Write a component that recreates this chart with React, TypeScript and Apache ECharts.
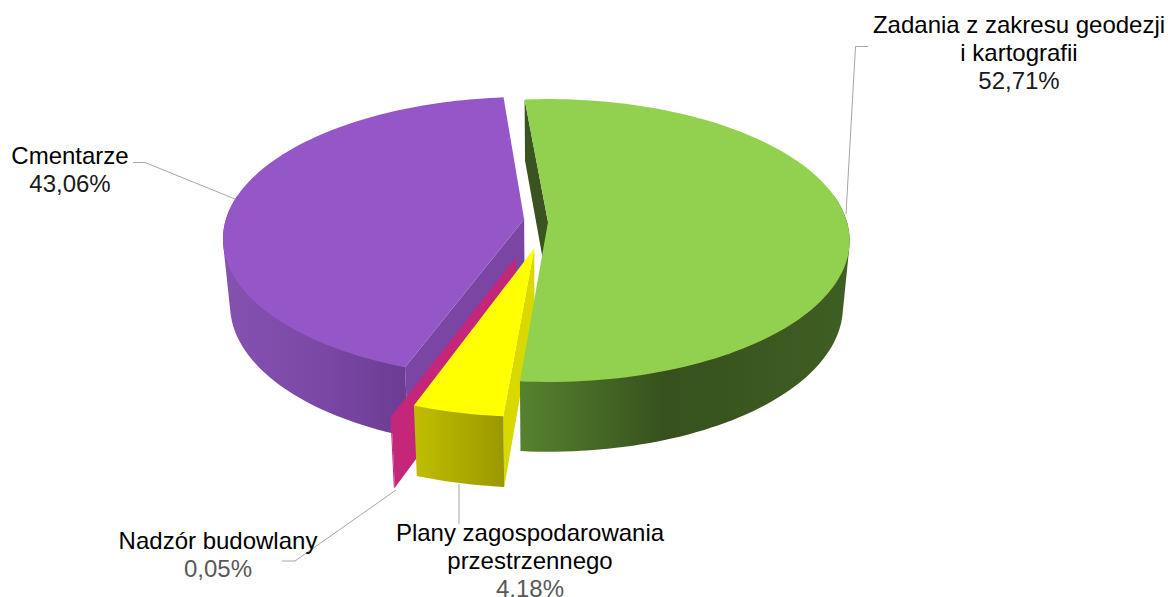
import React, { useEffect, useRef } from "react";
import * as echarts from "echarts";

const categories = ["Zadania z zakresu geodezji i kartografii", "Plany zagospodarowania przestrzennego", "Nadzór budowlany", "Cmentarze"];
const values = [52.71, 4.18, 0.05, 43.06];
const labelLines = [["Zadania z zakresu geodezji", "i kartografii"], ["Plany zagospodarowania", "przestrzennego"], ["Nadzór budowlany"], ["Cmentarze"]];

// --- styling and camera (not data) ---
const START_ANGLE = -5;
const FONT = '"Liberation Sans", Arial, sans-serif';
const TEXT_PX = 24;
const LINE_GAP = 28;
const camera = { x: 545, y: 222, ax: 299, ay: 139, k: 0.131, depth: 65.5, shrink: 0.978 };
const sliceOffsets = [
  { u: 0.01, v: 0 },
  { u: -0.035, v: 0.185 },
  { u: -0.095, v: 0.245 },
  { u: -0.07, v: -0.02 },
];
const topColors = ["#92d050", "#ffff00", "#c4267a", "#9556c8"];
const wallColors = ["#3a5320", "#d9d900", "#c4267a", "#7a45a3"];
const rimStops: [number, string][][] = [
  [[0, "#56822f"], [0.45, "#36511d"], [1, "#3f5e23"]],
  [[0, "#bfbd00"], [1, "#9a9800"]],
  [[0, "#c4267a"], [1, "#c4267a"]],
  [[0, "#8451b0"], [0.5, "#7b48a6"], [1, "#6b3c93"]],
];
const labelStyles = [
  { cx: 1019, y: 24, pct: "#1a1a1a" },
  { cx: 530, y: 532, pct: "#595959" },
  { cx: 218, y: 540, pct: "#595959" },
  { cx: 70, y: 155, pct: "#1a1a1a" },
];
const leaderLines: number[][][] = [
  [[846, 214], [855.5, 46.5], [868, 46.5]],
  [[459, 484], [459, 524]],
  [[396, 490], [295, 561], [282, 561]],
  [[235, 199], [145, 162.5], [133, 162.5]],
];
const renderOrder = [3, 2, 1, 0];

function project(U: number, V: number, bottom: boolean): number[] {
  const w = 1 - camera.k * V;
  const sx = (camera.ax * U) / w;
  const sy = (camera.ay * V) / w;
  if (!bottom) return [camera.x + sx, camera.y + sy];
  return [camera.x + sx * camera.shrink, camera.y + sy + camera.depth * (1 + 0.5 * camera.k * V)];
}

function sliceAngles(i: number): [number, number] {
  const total = values.reduce((a, b) => a + b, 0);
  let a = START_ANGLE;
  for (let j = 0; j < i; j++) a += (values[j] / total) * 360;
  return [a, a + (values[i] / total) * 360];
}

function arcPoint(i: number, deg: number, bottom: boolean): number[] {
  const r = (deg * Math.PI) / 180;
  const o = sliceOffsets[i];
  return project(o.u + Math.sin(r), o.v - Math.cos(r), bottom);
}

function hull(points: number[][]): number[][] {
  const p = points.slice().sort((a, b) => a[0] - b[0] || a[1] - b[1]);
  const cross = (o: number[], a: number[], b: number[]) => (a[0] - o[0]) * (b[1] - o[1]) - (a[1] - o[1]) * (b[0] - o[0]);
  const half = (list: number[][]) => {
    const h: number[][] = [];
    for (const q of list) {
      while (h.length >= 2 && cross(h[h.length - 2], h[h.length - 1], q) <= 0) h.pop();
      h.push(q);
    }
    h.pop();
    return h;
  };
  return [...half(p), ...half(p.slice().reverse())];
}

function renderSlice(params: any) {
  const i = renderOrder[params.dataIndex];
  const [a0, a1] = sliceAngles(i);
  const steps = Math.max(2, Math.ceil((a1 - a0) / 1.5));
  const degs: number[] = [];
  for (let s = 0; s <= steps; s++) degs.push(a0 + ((a1 - a0) * s) / steps);
  const o = sliceOffsets[i];
  const apexTop = project(o.u, o.v, false);
  const apexBottom = project(o.u, o.v, true);
  const topArc = degs.map((d) => arcPoint(i, d, false));
  const bottomArc = degs.map((d) => arcPoint(i, d, true));
  const front = degs.filter((d) => Math.cos((d * Math.PI) / 180) < 0.2);
  const frontTop = front.map((d) => arcPoint(i, d, false));
  const frontBottom = front.map((d) => arcPoint(i, d, true));
  const xs = frontBottom.map((q) => q[0]);
  const minX = Math.min(...xs);
  const maxX = Math.max(...xs);
  const gradient = new echarts.graphic.LinearGradient(minX, 0, maxX, 0,
    rimStops[i].map(([offset, color]) => ({ offset, color })), true);
  return {
    type: "group",
    children: [
      {
        type: "polygon",
        shape: { points: [apexTop, topArc[0], bottomArc[0], apexBottom] },
        style: { fill: wallColors[i] },
      },
      {
        type: "polygon",
        shape: { points: hull([...frontTop, ...frontBottom]) },
        style: { fill: gradient },
      },
      {
        type: "polygon",
        shape: { points: [apexTop, ...topArc] },
        style: { fill: topColors[i] },
      },
    ],
  };
}

function pct(v: number) {
  return v.toFixed(2).replace(".", ",") + "%";
}

function labelGraphics() {
  const out: any[] = [];
  leaderLines.forEach((pts) => {
    out.push({ type: "polyline", silent: true, shape: { points: pts }, style: { stroke: "#a6a6a6", lineWidth: 1, fill: "none" } });
  });
  categories.forEach((_, i) => {
    const st = labelStyles[i];
    const lines = labelLines[i];
    lines.forEach((t, n) => {
      out.push({
        type: "text", silent: true, x: st.cx, y: st.y + n * LINE_GAP,
        style: { text: t, fill: "#000", font: `${TEXT_PX}px ${FONT}`, textAlign: "center", textVerticalAlign: "middle" },
      });
    });
    out.push({
      type: "text", silent: true, x: st.cx, y: st.y + lines.length * LINE_GAP,
      style: { text: pct(values[i]), fill: st.pct, font: `${TEXT_PX}px ${FONT}`, textAlign: "center", textVerticalAlign: "middle" },
    });
  });
  return out;
}

export default function App() {
  const ref = useRef<HTMLDivElement>(null);
  useEffect(() => {
    const chart = echarts.init(ref.current!, undefined, { renderer: "svg" });
    chart.setOption({
      animation: false,
      backgroundColor: "#ffffff",
      series: [
        {
          type: "custom",
          coordinateSystem: "none",
          silent: true,
          renderItem: renderSlice,
          data: renderOrder.map((i) => ({ name: categories[i], value: values[i] })),
        },
      ],
      graphic: labelGraphics(),
    });
    return () => chart.dispose();
  }, []);
  return <div ref={ref} style={{ position: "fixed", left: 0, top: 0, width: 1168, height: 597 }} />;
}
